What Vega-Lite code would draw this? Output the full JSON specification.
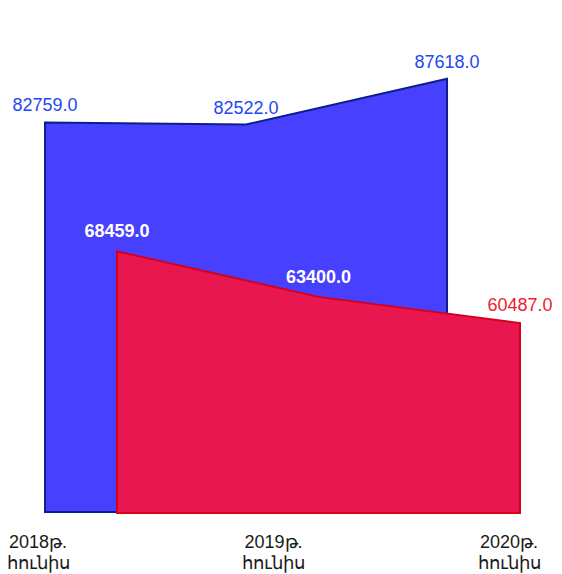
{
  "$schema": "https://vega.github.io/schema/vega-lite/v6.json",
  "width": 562,
  "height": 513,
  "padding": {"left": 0, "top": 0, "right": 0, "bottom": 61},
  "autosize": {"type": "none"},
  "background": "white",
  "config": {"view": {"stroke": null}, "font": "Liberation Sans"},
  "datasets": {
    "blue": [
      {"year": 2018, "value": 82759},
      {"year": 2019, "value": 82522},
      {"year": 2020, "value": 87618}
    ],
    "red": [
      {"year": 2018, "value": 68459},
      {"year": 2019, "value": 63400},
      {"year": 2020, "value": 60487}
    ],
    "axis": [
      {"year": 2018, "label": "2018թ.\nհունիս"},
      {"year": 2019, "label": "2019թ.\nհունիս"},
      {"year": 2020, "label": "2020թ.\nհունիս"}
    ]
  },
  "resolve": {"scale": {"x": "independent"}},
  "layer": [
    {
      "data": {"name": "blue"},
      "mark": {"type": "area", "color": "#4840FF", "stroke": "#0B1E8C", "strokeWidth": 2, "opacity": 1},
      "encoding": {
        "x": {"field": "year", "type": "quantitative", "scale": {"domain": [2017.776, 2020.572]}, "axis": null},
        "y": {"field": "value", "type": "quantitative", "scale": {"domain": [39416.5, 96346.5], "zero": false, "nice": false}, "axis": null},
        "y2": {"datum": 39527.5}
      }
    },
    {
      "data": {"name": "blue"},
      "mark": {"type": "text", "fontSize": 18, "color": "#2447F5", "baseline": "alphabetic", "dy": -11},
      "encoding": {
        "x": {"field": "year", "type": "quantitative", "scale": {"domain": [2017.776, 2020.572]}, "axis": null},
        "y": {"field": "value", "type": "quantitative", "axis": null},
        "text": {"field": "value", "type": "quantitative", "format": ".1f"}
      }
    },
    {
      "data": {"name": "red"},
      "mark": {"type": "area", "color": "#E8174F", "stroke": "#D6001C", "strokeWidth": 2, "opacity": 1},
      "encoding": {
        "x": {"field": "year", "type": "quantitative", "scale": {"domain": [2017.4194, 2020.2085]}, "axis": null},
        "y": {"field": "value", "type": "quantitative", "axis": null},
        "y2": {"datum": 39416.5}
      }
    },
    {
      "data": {"name": "red"},
      "transform": [{"filter": "datum.year < 2020"}],
      "mark": {"type": "text", "fontSize": 18, "fontWeight": "bold", "color": "#FFFFFF", "baseline": "alphabetic", "dy": -14},
      "encoding": {
        "x": {"field": "year", "type": "quantitative", "scale": {"domain": [2017.4194, 2020.2085]}, "axis": null},
        "y": {"field": "value", "type": "quantitative", "axis": null},
        "text": {"field": "value", "type": "quantitative", "format": ".1f"}
      }
    },
    {
      "data": {"name": "red"},
      "transform": [{"filter": "datum.year == 2020"}],
      "mark": {"type": "text", "fontSize": 18, "color": "#F01C2C", "baseline": "alphabetic", "dy": -12},
      "encoding": {
        "x": {"field": "year", "type": "quantitative", "scale": {"domain": [2017.4194, 2020.2085]}, "axis": null},
        "y": {"field": "value", "type": "quantitative", "axis": null},
        "text": {"field": "value", "type": "quantitative", "format": ".1f"}
      }
    },
    {
      "data": {"name": "axis"},
      "mark": {"type": "text", "fontSize": 18, "color": "#1A1A1A", "baseline": "top", "lineBreak": "\n", "lineHeight": 21, "dy": 21},
      "encoding": {
        "x": {"field": "year", "type": "quantitative", "scale": {"domain": [2017.8386, 2020.225]}, "axis": null},
        "y": {"datum": 39416.5},
        "text": {"field": "label", "type": "nominal"}
      }
    }
  ]
}
